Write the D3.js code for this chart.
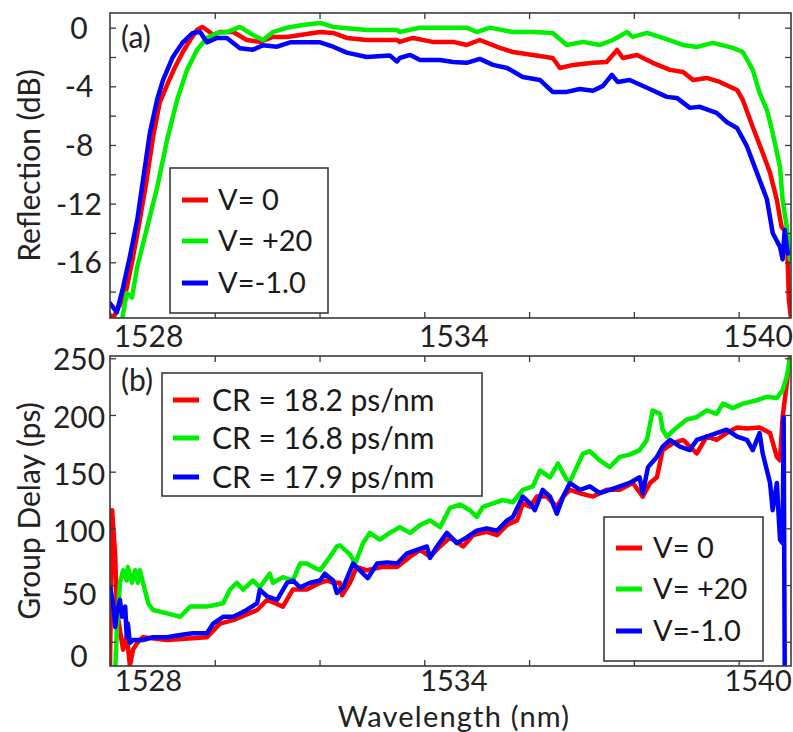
<!DOCTYPE html>
<html>
<head>
<meta charset="utf-8">
<script src="https://cdn.jsdelivr.net/npm/d3@7"></script>
<style>
  html, body { margin: 0; padding: 0; background: #fff; }
  svg { display: block; font-family: Lato, "Open Sans", sans-serif; }
  .tick line { stroke: #3a3a3a; stroke-width: 1.3; }
  .tick text { fill: #222; }
</style>
</head>
<body>
<svg id="chart" width="793" height="732"></svg>
<script>
// ---- data -------------------------------------------------------------
const seriesNames = ["V= 0", "V= +20", "V=-1.0"];
const chirpLabels = ["CR = 18.2 ps/nm", "CR = 16.8 ps/nm", "CR = 17.9 ps/nm"];
const seriesColors = ["#ff0000", "#00ee00", "#0000ff"];

const wlTicks = [1528, 1530, 1532, 1534, 1536, 1538, 1540];
const wlLabels = [1528, 1534, 1540];
const reflTicks = [-18, -16, -14, -12, -10, -8, -6, -4, -2, 0];
const reflLabels = [-16, -12, -8, -4, 0];
const delayTicks = [0, 50, 100, 150, 200, 250];

// Reflection spectra (wavelength nm, dB)
const reflV0 = [[1528.00,-19.6],[1528.06,-19.8],[1528.19,-18.9],[1528.31,-17.9],[1528.42,-16.0],[1528.55,-13.5],[1528.69,-10.6],[1528.82,-7.5],[1528.95,-5.1],[1529.09,-3.9],[1529.24,-2.7],[1529.39,-1.66],[1529.53,-0.84],[1529.66,-0.16],[1529.76,0.05],[1529.85,-0.16],[1529.97,-0.5],[1530.10,-0.3],[1530.35,-0.3],[1530.61,-0.84],[1530.86,-0.97],[1531.11,-0.63],[1531.38,-0.63],[1531.63,-0.5],[1532.01,-0.3],[1532.26,-0.36],[1532.52,-0.7],[1532.90,-0.84],[1533.48,-0.84],[1533.53,-0.97],[1533.78,-0.7],[1534.16,-0.97],[1534.55,-0.97],[1534.81,-1.18],[1535.06,-0.84],[1535.44,-1.38],[1535.69,-1.66],[1536.07,-1.86],[1536.45,-2.07],[1536.59,-2.75],[1536.84,-2.54],[1537.22,-2.4],[1537.48,-2.34],[1537.68,-1.52],[1537.79,-2.07],[1538.06,-1.86],[1538.36,-2.4],[1538.69,-2.88],[1538.94,-3.02],[1539.13,-3.57],[1539.39,-3.43],[1539.64,-3.7],[1539.97,-4.25],[1540.08,-4.93],[1540.27,-6.77],[1540.46,-8.54],[1540.60,-9.9],[1540.73,-11.75],[1540.82,-13.6],[1540.92,-14.0],[1540.96,-18.6],[1541.0,-19.8]];
const reflVp20 = [[1528.06,-19.9],[1528.23,-19.9],[1528.32,-18.1],[1528.42,-18.4],[1528.52,-16.3],[1528.71,-13.6],[1528.90,-10.9],[1529.09,-7.65],[1529.28,-4.93],[1529.47,-2.88],[1529.66,-1.52],[1529.85,-0.7],[1530.04,-0.36],[1530.23,-0.3],[1530.48,0.05],[1530.73,-0.5],[1530.92,-0.84],[1531.11,-0.3],[1531.38,0.0],[1531.68,0.18],[1532.01,0.32],[1532.26,0.05],[1532.90,-0.16],[1533.48,-0.16],[1533.53,-0.3],[1533.92,0.0],[1534.30,0.0],[1534.81,0.0],[1535.00,-0.3],[1535.25,0.0],[1535.69,-0.3],[1536.07,-0.3],[1536.45,-0.36],[1536.72,-1.18],[1537.03,-0.97],[1537.35,-1.18],[1537.60,-0.84],[1537.87,-0.3],[1537.98,-0.63],[1538.25,-0.36],[1538.55,-0.7],[1538.94,-1.18],[1539.20,-1.32],[1539.51,-1.04],[1539.89,-1.38],[1540.08,-1.66],[1540.27,-2.88],[1540.40,-4.45],[1540.54,-5.6],[1540.65,-7.18],[1540.79,-9.5],[1540.84,-11.75],[1540.92,-13.6],[1540.98,-15.8]];
const reflVm10 = [[1528.00,-18.8],[1528.13,-19.4],[1528.25,-17.7],[1528.38,-15.6],[1528.52,-13.1],[1528.63,-10.4],[1528.76,-7.2],[1528.90,-4.9],[1529.01,-3.6],[1529.20,-2.0],[1529.39,-1.0],[1529.58,-0.36],[1529.72,-0.3],[1529.85,-1.0],[1530.04,-0.7],[1530.23,-0.7],[1530.48,-1.4],[1530.73,-1.5],[1530.92,-1.2],[1531.19,-1.3],[1531.44,-1.0],[1532.01,-1.0],[1532.26,-1.3],[1532.52,-1.7],[1532.90,-2.0],[1533.34,-1.9],[1533.48,-2.3],[1533.53,-2.07],[1533.73,-1.86],[1533.92,-2.2],[1534.30,-2.2],[1534.55,-2.34],[1534.81,-2.4],[1535.06,-2.13],[1535.31,-2.54],[1535.58,-2.75],[1535.88,-3.36],[1536.21,-3.57],[1536.45,-4.38],[1536.72,-4.38],[1536.97,-4.18],[1537.22,-4.3],[1537.41,-3.97],[1537.58,-3.22],[1537.69,-3.7],[1537.92,-3.57],[1538.25,-4.1],[1538.63,-4.72],[1538.82,-4.79],[1539.07,-5.47],[1539.26,-5.4],[1539.58,-5.81],[1539.77,-6.43],[1539.97,-6.84],[1540.16,-8.1],[1540.35,-9.9],[1540.54,-11.7],[1540.65,-14.0],[1540.79,-14.95],[1540.84,-15.8],[1540.88,-13.8],[1540.94,-15.4]];

// Group delay (wavelength nm, ps)
const delayV0 = [[1528.00,-21],[1528.04,116],[1528.10,75],[1528.13,28],[1528.19,10],[1528.25,-7],[1528.32,5],[1528.38,-21],[1528.44,-7],[1528.52,-1],[1528.63,4],[1529.09,1.5],[1529.85,4],[1530.10,16],[1530.35,19],[1530.81,28],[1531.00,37],[1531.30,31],[1531.49,46],[1531.76,46],[1532.01,52],[1532.14,54],[1532.26,52],[1532.39,52],[1532.43,41],[1532.58,52],[1532.71,66],[1532.90,63],[1533.21,66],[1533.48,66],[1533.73,75],[1533.92,81],[1534.11,75],[1534.30,84],[1534.49,92],[1534.74,84],[1534.93,94],[1535.19,97],[1535.39,94],[1535.58,103],[1535.77,107],[1535.88,122],[1536.02,119],[1536.15,128],[1536.34,128],[1536.53,119],[1536.65,128],[1536.78,134],[1536.97,131],[1537.22,128],[1537.48,134],[1537.73,134],[1537.98,140],[1538.17,128],[1538.31,140],[1538.44,145],[1538.55,169],[1538.74,175],[1538.94,178],[1539.20,166],[1539.39,181],[1539.58,178],[1539.77,184],[1539.97,189],[1540.16,188],[1540.40,189],[1540.60,184],[1540.73,163],[1540.79,160],[1540.84,198],[1540.92,228],[1540.98,251]];
const delayVp20 = [[1528.10,-25],[1528.13,10],[1528.19,52],[1528.25,63],[1528.32,54],[1528.34,66],[1528.42,52],[1528.48,63],[1528.53,52],[1528.57,63],[1528.63,52],[1528.73,34],[1528.82,28],[1529.09,25],[1529.34,22],[1529.53,31],[1529.85,31],[1530.16,34],[1530.29,46],[1530.42,52],[1530.54,46],[1530.73,54],[1530.86,48],[1531.05,60],[1531.11,52],[1531.30,57],[1531.49,54],[1531.63,69],[1531.76,69],[1531.87,66],[1532.01,63],[1532.20,75],[1532.33,84],[1532.39,85],[1532.58,77],[1532.68,69],[1532.83,87],[1532.96,96],[1533.15,90],[1533.34,96],[1533.53,101],[1533.73,96],[1533.92,103],[1534.11,107],[1534.30,101],[1534.49,118],[1534.68,121],[1534.87,116],[1535.00,110],[1535.12,119],[1535.31,122],[1535.50,125],[1535.69,123],[1535.88,134],[1536.07,137],[1536.21,151],[1536.40,145],[1536.55,157],[1536.72,143],[1536.78,141],[1537.03,166],[1537.16,168],[1537.35,160],[1537.54,154],[1537.73,163],[1537.92,165],[1538.11,169],[1538.25,178],[1538.36,204],[1538.50,201],[1538.55,187],[1538.63,181],[1538.82,189],[1539.01,196],[1539.20,198],[1539.39,204],[1539.58,201],[1539.70,210],[1539.89,206],[1540.08,210],[1540.35,213],[1540.54,216],[1540.73,215],[1540.84,222],[1540.92,234],[1540.98,249]];
const delayVm10 = [[1528.00,48],[1528.06,34],[1528.10,13],[1528.13,25],[1528.19,37],[1528.23,22],[1528.29,31],[1528.32,4],[1528.34,16],[1528.38,-1],[1528.44,1.5],[1528.63,1.5],[1528.82,4],[1529.09,4],[1529.34,6],[1529.58,7.5],[1529.85,7.5],[1529.97,16],[1530.16,22],[1530.35,22],[1530.48,25],[1530.61,28],[1530.81,34],[1530.86,46],[1531.00,40],[1531.19,37],[1531.38,52],[1531.49,54],[1531.63,48],[1531.82,52],[1532.01,54],[1532.10,60],[1532.26,54],[1532.33,43],[1532.45,48],[1532.64,69],[1532.77,63],[1532.92,56],[1533.10,69],[1533.29,70],[1533.48,69],[1533.67,78],[1533.86,81],[1534.05,84],[1534.11,74],[1534.24,84],[1534.43,96],[1534.62,87],[1534.81,92],[1535.00,98],[1535.19,100],[1535.39,98],[1535.58,107],[1535.69,110],[1535.88,128],[1536.02,122],[1536.11,116],[1536.26,134],[1536.40,128],[1536.53,113],[1536.65,128],[1536.78,140],[1536.97,134],[1537.16,137],[1537.35,131],[1537.54,134],[1537.73,137],[1537.92,140],[1538.11,145],[1538.17,131],[1538.27,154],[1538.44,163],[1538.55,172],[1538.69,178],[1538.88,172],[1539.07,169],[1539.20,178],[1539.39,181],[1539.58,184],[1539.77,187],[1539.97,181],[1540.16,178],[1540.27,169],[1540.40,184],[1540.46,166],[1540.60,140],[1540.65,116],[1540.73,140],[1540.79,90],[1540.84,87],[1540.86,198],[1540.88,-25]];

// ---- layout -----------------------------------------------------------
const svg = d3.select("#chart");
const plotLeft = 110, plotRight = 791;
const x = d3.scaleLinear().domain([1528, 1541]).range([plotLeft, plotRight]);

// horizontal nudges for the wavelength tick labels
const wlLabelShift = { 1528: 38, 1534: 29, 1540: 19 };
// vertical nudges for the group-delay tick labels
const delayLabelShift = { 0: 14, 50: 9, 100: 3, 150: 2, 200: 2, 250: 1 };

const panels = [
  {
    id: "refl", top: 13, bottom: 318, domain: [-19.8, 1.0],
    ticks: reflTicks, labels: reflLabels, labelShift: {},
    xFont: 30, xLabelY: 29,
    series: [reflV0, reflVp20, reflVm10], tag: "(a)", title: "Reflection (dB)"
  },
  {
    id: "delay", top: 356, bottom: 666, domain: [-21.4, 252],
    ticks: delayTicks, labels: delayTicks, labelShift: delayLabelShift,
    xFont: 29, xLabelY: 25,
    series: [delayV0, delayVp20, delayVm10], tag: "(b)", title: "Group Delay (ps)"
  }
];

const tickFont = 30;

panels.forEach(p => {
  const y = d3.scaleLinear().domain(p.domain).range([p.bottom, p.top]);
  const g = svg.append("g");

  // clip region for the traces
  svg.append("clipPath").attr("id", "clip-" + p.id)
    .append("rect").attr("x", plotLeft).attr("y", p.top)
    .attr("width", plotRight - plotLeft).attr("height", p.bottom - p.top);

  // traces
  const line = d3.line().x(d => x(d[0])).y(d => y(d[1]));
  const traces = g.append("g").attr("clip-path", `url(#clip-${p.id})`);
  p.series.forEach((s, i) => {
    traces.append("path").datum(s)
      .attr("d", line)
      .attr("fill", "none")
      .attr("stroke", seriesColors[i])
      .attr("stroke-width", 4.5)
      .attr("stroke-linejoin", "round")
      .attr("stroke-linecap", "round");
  });

  // bottom axis with labels
  const xb = g.append("g").attr("transform", `translate(0,${p.bottom})`)
    .call(d3.axisBottom(x).tickValues(wlTicks).tickSizeInner(-6).tickSizeOuter(0)
      .tickFormat(d => wlLabels.includes(d) ? d : ""));
  xb.select(".domain").remove();
  xb.selectAll(".tick text").attr("font-size", p.xFont).attr("font-family", "Lato")
    .attr("y", p.xLabelY).attr("dy", 0)
    .attr("dx", d => wlLabelShift[d] || 0);

  // top axis ticks
  const xt = g.append("g").attr("transform", `translate(0,${p.top})`)
    .call(d3.axisTop(x).tickValues(wlTicks.slice(1)).tickSizeInner(-6).tickSizeOuter(0).tickFormat(""));
  xt.select(".domain").remove();

  // left axis with labels
  const yl = g.append("g").attr("transform", `translate(${plotLeft},0)`)
    .call(d3.axisLeft(y).tickValues(p.ticks).tickSizeInner(-6).tickSizeOuter(0)
      .tickFormat(d => p.labels.includes(d) ? d : ""));
  yl.select(".domain").remove();
  yl.selectAll(".tick text").attr("font-size", tickFont).attr("font-family", "Lato")
    .attr("text-anchor", "middle").attr("x", -31)
    .attr("dy", d => (0.35 * tickFont + (p.labelShift[d] || 0)) + "px")
    .text(d => p.labels.includes(d) ? String(d) : "");

  // right axis ticks
  const yr = g.append("g").attr("transform", `translate(${plotRight},0)`)
    .call(d3.axisRight(y).tickValues(p.ticks).tickSizeInner(-6).tickSizeOuter(0).tickFormat(""));
  yr.select(".domain").remove();

  // frame
  g.append("rect").attr("x", plotLeft).attr("y", p.top)
    .attr("width", plotRight - plotLeft).attr("height", p.bottom - p.top)
    .attr("fill", "none").attr("stroke", "#3a3a3a").attr("stroke-width", 1.6);

  // panel tag
  g.append("text").attr("x", 121).attr("y", p.top + 35)
    .attr("font-size", 30).attr("fill", "#222").text(p.tag);

  // y title
  g.append("text")
    .attr("transform", `translate(40,${(p.top + p.bottom) / 2}) rotate(-90)`)
    .attr("text-anchor", "middle").attr("font-size", 30).attr("fill", "#222")
    .text(p.title);
});

// x title
svg.append("text").attr("x", 454).attr("y", 727).attr("text-anchor", "middle")
  .attr("font-size", 29).attr("letter-spacing", 1.2).attr("fill", "#222").text("Wavelength (nm)");

// ---- legends ----------------------------------------------------------
function legend(box, rows, texts, fontSize) {
  const g = svg.append("g");
  g.append("rect").attr("x", box.x).attr("y", box.y).attr("width", box.w).attr("height", box.h)
    .attr("fill", "#fff").attr("stroke", "#3a3a3a").attr("stroke-width", 1.6);
  texts.forEach((t, i) => {
    g.append("line").attr("x1", box.lx).attr("x2", box.lx + 26)
      .attr("y1", rows[i]).attr("y2", rows[i])
      .attr("stroke", seriesColors[i]).attr("stroke-width", 5);
    g.append("text").attr("x", box.tx).attr("y", rows[i]).attr("dy", "0.35em")
      .attr("font-size", fontSize).attr("fill", "#1a1a1a").text(t);
  });
}

legend({ x: 170, y: 168, w: 158, h: 145, lx: 182, tx: 218 }, [200, 241, 283], seriesNames, 29);
legend({ x: 162, y: 373, w: 320, h: 123, lx: 173, tx: 212 }, [400, 438, 477], chirpLabels, 30);
legend({ x: 604, y: 517, w: 159, h: 144, lx: 616, tx: 653 }, [548, 589, 631], seriesNames, 29);
</script>
</body>
</html>
